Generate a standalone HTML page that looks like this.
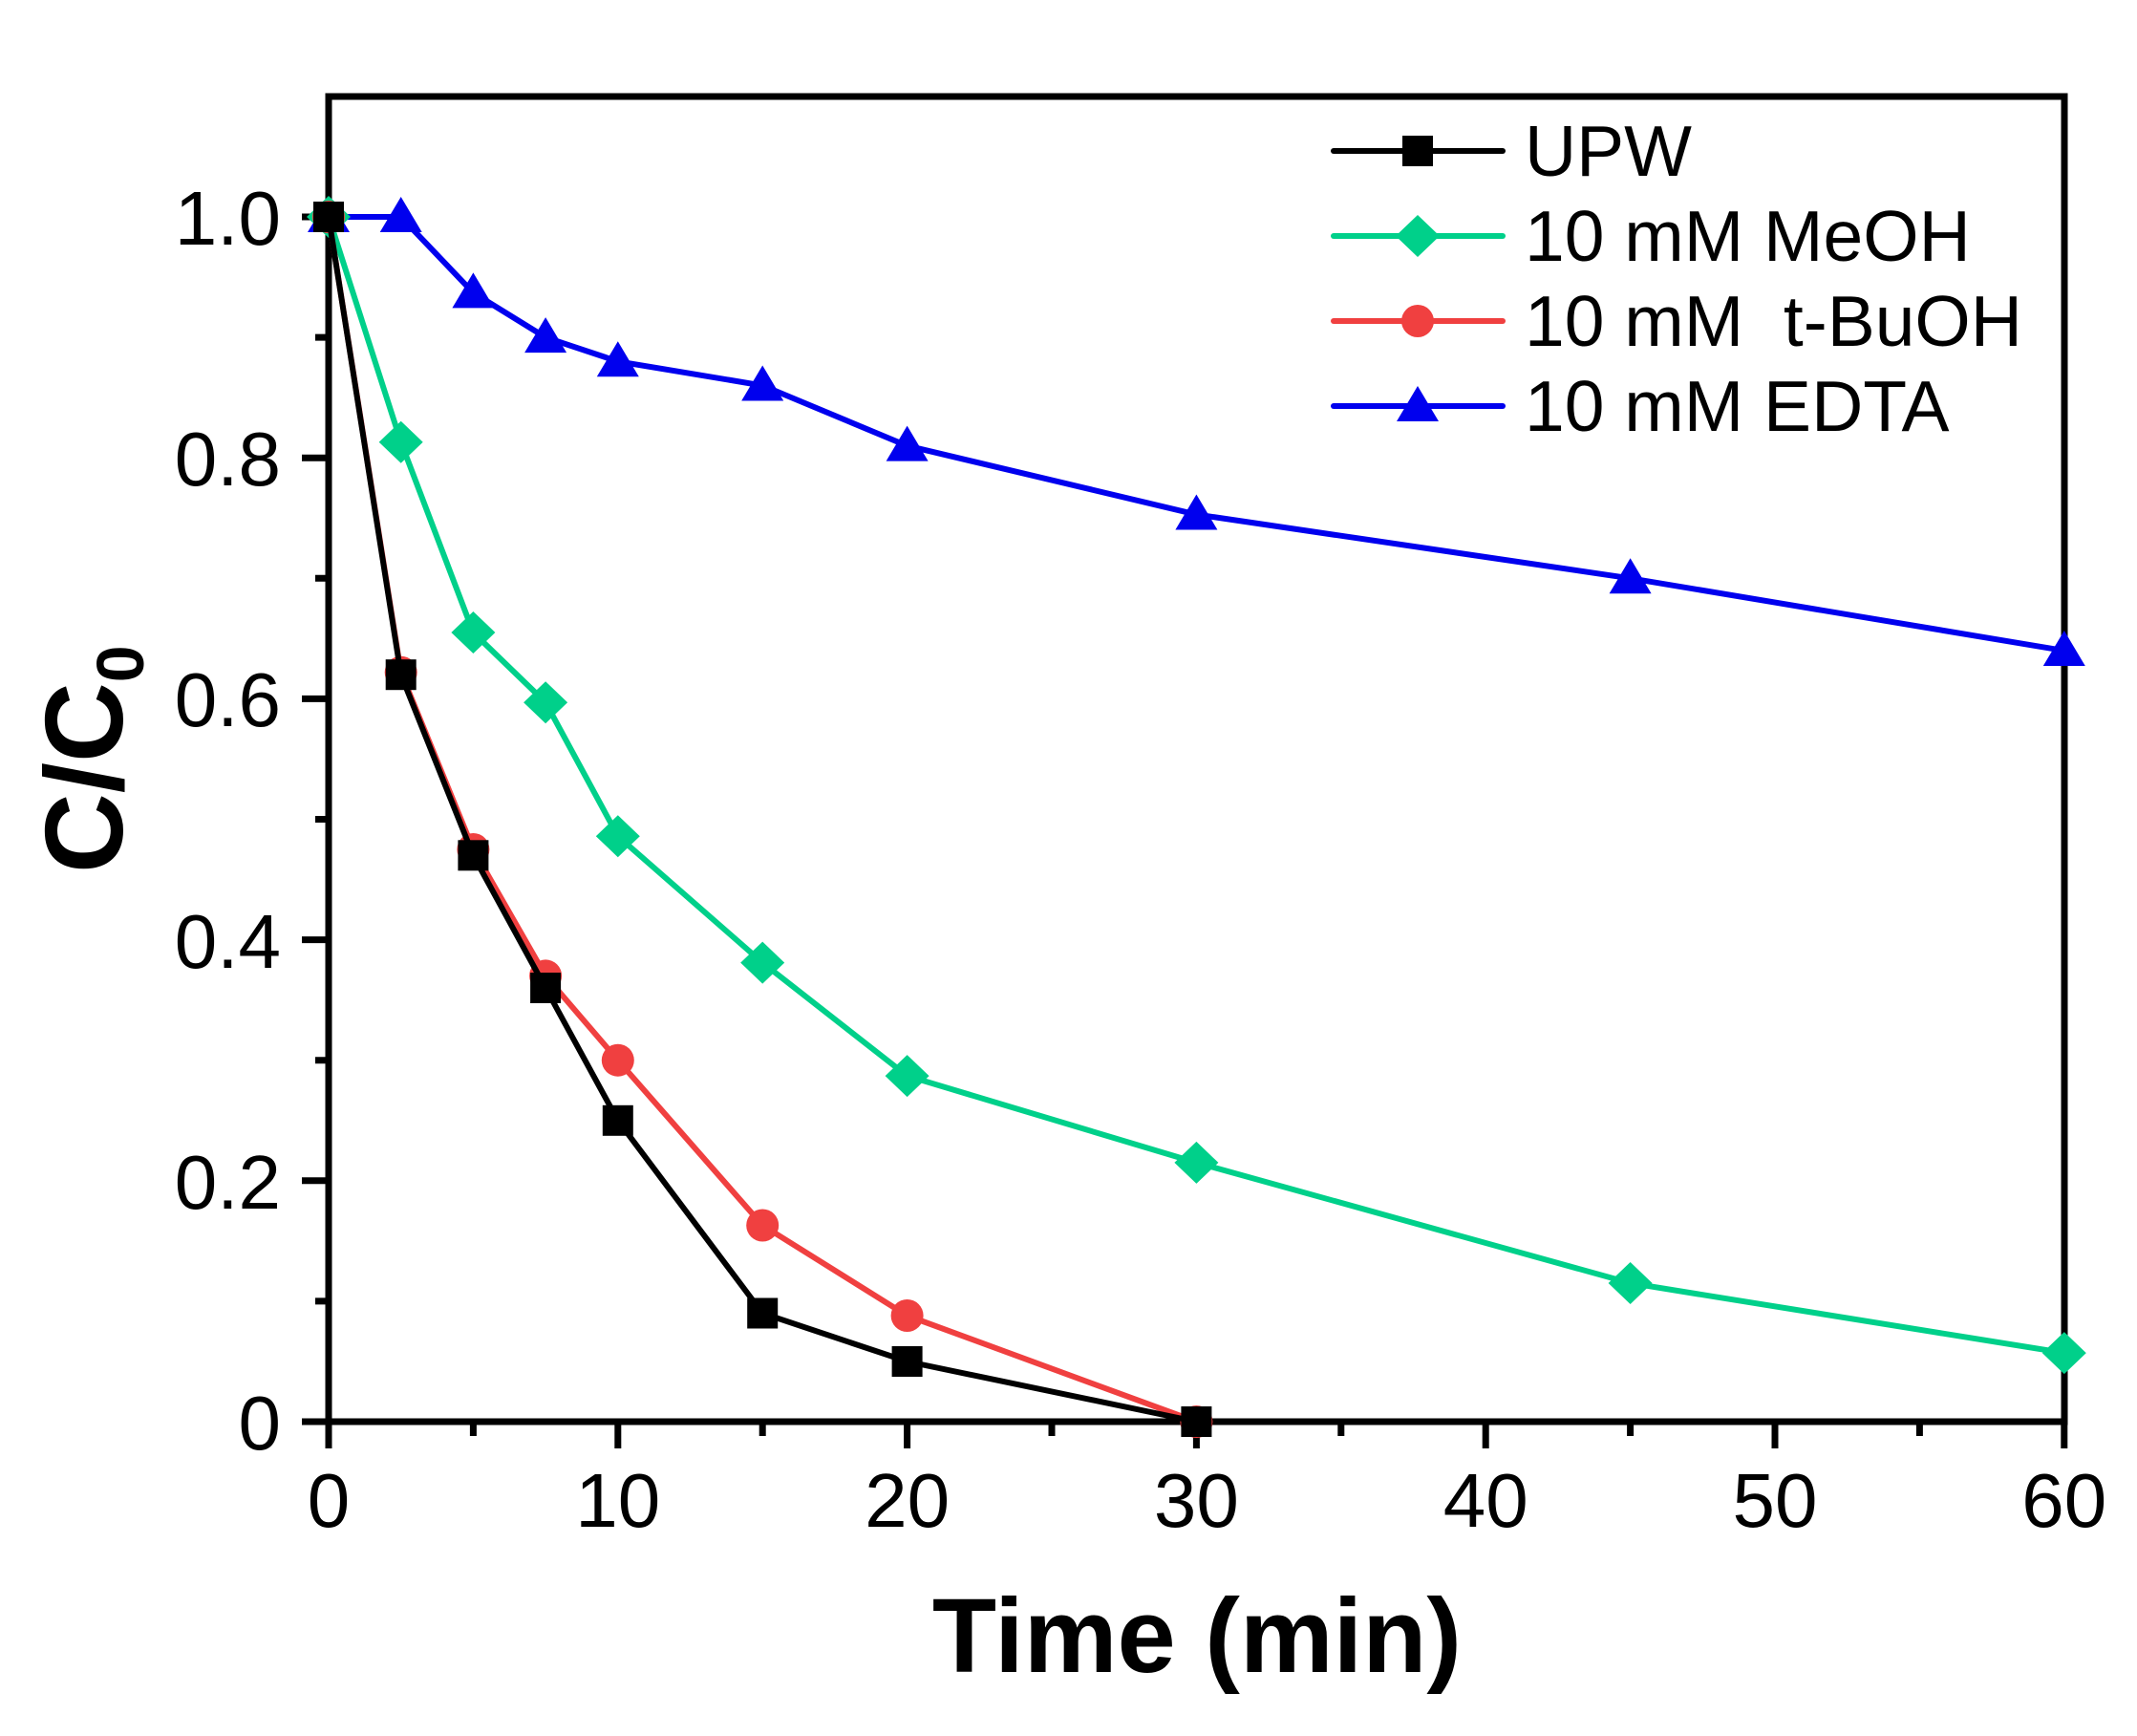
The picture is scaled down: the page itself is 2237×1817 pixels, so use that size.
<!DOCTYPE html>
<html><head><meta charset="utf-8"><style>html,body{margin:0;padding:0;background:#fff}svg{display:block}</style></head>
<body>
<svg width="2237" height="1817" viewBox="0 0 2237 1817" xmlns="http://www.w3.org/2000/svg" font-family="'Liberation Sans', Arial, sans-serif">
<rect width="2237" height="1817" fill="#fff"/>
<g stroke="#000" stroke-width="7" fill="none">
<rect x="344" y="101" width="1817" height="1387"/>
<path d="M344 1488v28M646.8 1488v28M949.6 1488v28M1252.4 1488v28M1555.2 1488v28M1858 1488v28M2160.8 1488v28"/>
<path d="M495.4 1488v15M798.2 1488v15M1101 1488v15M1403.8 1488v15M1706.6 1488v15M2009.4 1488v15"/>
<path d="M316 1488h28M316 1235.8h28M316 983.6h28M316 731.4h28M316 479.2h28M316 227h28"/>
<path d="M330 1361.9h14M330 1109.7h14M330 857.5h14M330 605.3h14M330 353.1h14"/>
</g>
<g font-size="80" fill="#000" text-anchor="middle">
<text x="344" y="1598">0</text><text x="646.8" y="1598">10</text><text x="949.6" y="1598">20</text><text x="1252.4" y="1598">30</text><text x="1555.2" y="1598">40</text><text x="1858" y="1598">50</text><text x="2160.8" y="1598">60</text>
</g>
<g font-size="80" fill="#000" text-anchor="end">
<text x="294" y="1517">0</text><text x="294" y="1265">0.2</text><text x="294" y="1013">0.4</text><text x="294" y="760">0.6</text><text x="294" y="508">0.8</text><text x="294" y="256">1.0</text>
</g>
<text x="1253" y="1750" font-size="110" font-weight="bold" text-anchor="middle">Time (min)</text>
<text transform="translate(128,914) rotate(-90)" font-size="116" font-weight="bold">C/C<tspan font-size="70" dy="22">0</tspan></text>

<polyline fill="none" stroke="#0000ee" stroke-width="6" points="344,227 419.7,227 495.4,306.4 571.1,353.1 646.8,378.3 798.2,403.5 949.6,466.6 1252.4,538.5 1706.6,605.3 2160.8,681"/>
<g fill="#0000ee">
<polygon points="344,206 322,243 366,243"/><polygon points="419.7,206 397.7,243 441.7,243"/><polygon points="495.4,285.4 473.4,322.4 517.4,322.4"/><polygon points="571.1,332.1 549.1,369.1 593.1,369.1"/><polygon points="646.8,357.3 624.8,394.3 668.8,394.3"/><polygon points="798.2,382.5 776.2,419.5 820.2,419.5"/><polygon points="949.6,445.6 927.6,482.6 971.6,482.6"/><polygon points="1252.4,517.5 1230.4,554.5 1274.4,554.5"/><polygon points="1706.6,584.3 1684.6,621.3 1728.6,621.3"/><polygon points="2160.8,660 2138.8,697 2182.8,697"/>
</g>
<polyline fill="none" stroke="#00d08a" stroke-width="6" points="344,227 419.7,462.8 495.4,662 571.1,735.2 646.8,875.2 798.2,1007.6 949.6,1126.1 1252.4,1216.9 1706.6,1343 2160.8,1416.1"/>
<g fill="#00d08a">
<polygon points="344,205 367,227 344,249 321,227"/><polygon points="419.7,440.8 442.7,462.8 419.7,484.8 396.7,462.8"/><polygon points="495.4,640 518.4,662 495.4,684 472.4,662"/><polygon points="571.1,713.2 594.1,735.2 571.1,757.2 548.1,735.2"/><polygon points="646.8,853.2 669.8,875.2 646.8,897.2 623.8,875.2"/><polygon points="798.2,985.6 821.2,1007.6 798.2,1029.6 775.2,1007.6"/><polygon points="949.6,1104.1 972.6,1126.1 949.6,1148.1 926.6,1126.1"/><polygon points="1252.4,1194.9 1275.4,1216.9 1252.4,1238.9 1229.4,1216.9"/><polygon points="1706.6,1321 1729.6,1343 1706.6,1365 1683.6,1343"/><polygon points="2160.8,1394.1 2183.8,1416.1 2160.8,1438.1 2137.8,1416.1"/>
</g>
<polyline fill="none" stroke="#f04040" stroke-width="6" points="344,227 419.7,703.7 495.4,889 571.1,1021.4 646.8,1109.7 798.2,1282.5 949.6,1377 1252.4,1488"/>
<g fill="#f04040">
<circle cx="344" cy="227" r="17"/><circle cx="419.7" cy="703.7" r="17"/><circle cx="495.4" cy="889" r="17"/><circle cx="571.1" cy="1021.4" r="17"/><circle cx="646.8" cy="1109.7" r="17"/><circle cx="798.2" cy="1282.5" r="17"/><circle cx="949.6" cy="1377" r="17"/><circle cx="1252.4" cy="1488" r="17"/>
</g>
<polyline fill="none" stroke="#000" stroke-width="6" points="344,227 419.7,706.2 495.4,895.3 571.1,1034 646.8,1172.8 798.2,1374.5 949.6,1425 1252.4,1488"/>
<g fill="#000">
<rect x="328" y="211" width="32" height="32"/><rect x="403.7" y="690.2" width="32" height="32"/><rect x="479.4" y="879.3" width="32" height="32"/><rect x="555.1" y="1018" width="32" height="32"/><rect x="630.8" y="1156.8" width="32" height="32"/><rect x="782.2" y="1358.5" width="32" height="32"/><rect x="933.6" y="1409" width="32" height="32"/><rect x="1236.4" y="1472" width="32" height="32"/>
</g>

<g stroke-width="6" stroke-linecap="round">
<line x1="1396" y1="158" x2="1573" y2="158" stroke="#000"/>
<line x1="1396" y1="247" x2="1573" y2="247" stroke="#00d08a"/>
<line x1="1396" y1="336" x2="1573" y2="336" stroke="#f04040"/>
<line x1="1396" y1="425" x2="1573" y2="425" stroke="#0000ee"/>
</g>
<rect x="1468" y="142" width="32" height="32" fill="#000"/>
<polygon points="1484,225 1507,247 1484,269 1461,247" fill="#00d08a"/>
<circle cx="1484" cy="336" r="17" fill="#f04040"/>
<polygon points="1484,404 1462,441 1506,441" fill="#0000ee"/>
<g font-size="75" fill="#000">
<text x="1596" y="184">UPW</text>
<text x="1596" y="273">10 mM MeOH</text>
<text x="1596" y="362" xml:space="preserve">10 mM  t-BuOH</text>
<text x="1596" y="451">10 mM EDTA</text>
</g>
</svg>
</body></html>
